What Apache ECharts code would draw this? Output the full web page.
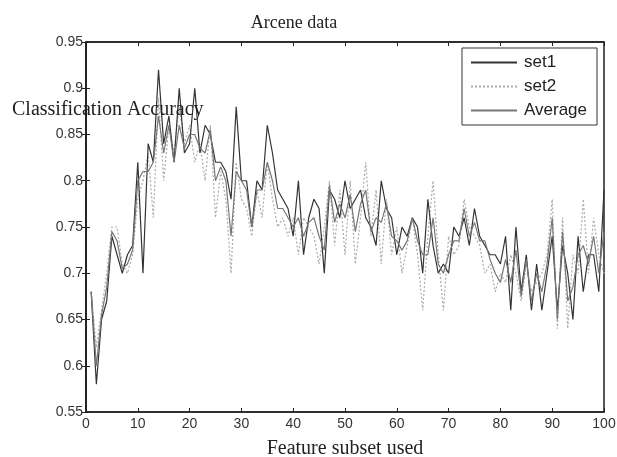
<!DOCTYPE html>
<html>
<head>
<meta charset="utf-8">
<script src="https://cdn.jsdelivr.net/npm/echarts@6/dist/echarts.min.js"></script>
<style>html,body{margin:0;padding:0;background:#fff}#c{width:617px;height:457px}</style>
</head>
<body>
<div id="c"></div>
<script>
var featureSubset = [];
for (var k = 1; k <= 100; k++) featureSubset.push(k);

var set1 = [0.68,0.58,0.65,0.67,0.74,0.72,0.70,0.72,0.73,0.82,
0.70,0.84,0.82,0.92,0.84,0.87,0.82,0.90,0.83,0.84,
0.90,0.83,0.86,0.85,0.82,0.82,0.81,0.78,0.88,0.80,
0.80,0.75,0.80,0.79,0.86,0.83,0.79,0.78,0.77,0.74,
0.80,0.72,0.76,0.78,0.77,0.70,0.79,0.78,0.76,0.80,
0.77,0.78,0.79,0.76,0.75,0.73,0.80,0.77,0.76,0.72,
0.75,0.74,0.76,0.75,0.70,0.78,0.73,0.70,0.71,0.70,
0.75,0.74,0.76,0.73,0.77,0.74,0.73,0.72,0.72,0.71,
0.74,0.66,0.75,0.68,0.72,0.66,0.71,0.66,0.70,0.74,
0.66,0.73,0.70,0.65,0.74,0.68,0.72,0.72,0.68,0.79];

var set2 = [0.68,0.62,0.66,0.70,0.75,0.75,0.71,0.70,0.72,0.78,
0.80,0.83,0.76,0.89,0.80,0.86,0.83,0.88,0.84,0.86,
0.82,0.84,0.80,0.86,0.76,0.81,0.78,0.70,0.82,0.78,
0.77,0.74,0.79,0.76,0.82,0.78,0.75,0.76,0.74,0.76,
0.72,0.76,0.75,0.74,0.71,0.75,0.80,0.73,0.79,0.72,
0.80,0.71,0.76,0.82,0.74,0.79,0.71,0.78,0.72,0.75,
0.70,0.73,0.76,0.72,0.66,0.74,0.80,0.72,0.66,0.74,
0.72,0.73,0.78,0.75,0.74,0.73,0.70,0.71,0.68,0.70,
0.69,0.72,0.70,0.67,0.71,0.68,0.69,0.70,0.72,0.78,
0.64,0.76,0.64,0.72,0.70,0.78,0.70,0.76,0.72,0.70];

var average = [0.68,0.60,0.655,0.685,0.745,0.735,0.705,0.71,0.725,0.80,
0.81,0.81,0.82,0.87,0.83,0.86,0.82,0.86,0.835,0.85,
0.85,0.835,0.83,0.855,0.80,0.815,0.80,0.74,0.81,0.80,
0.79,0.75,0.79,0.79,0.82,0.80,0.77,0.77,0.76,0.75,
0.76,0.74,0.755,0.76,0.74,0.725,0.795,0.755,0.775,0.76,
0.785,0.745,0.775,0.79,0.745,0.76,0.755,0.775,0.74,0.735,
0.725,0.735,0.76,0.735,0.72,0.72,0.76,0.71,0.70,0.72,
0.735,0.735,0.77,0.74,0.755,0.735,0.735,0.715,0.70,0.69,
0.715,0.69,0.725,0.675,0.715,0.67,0.70,0.68,0.71,0.76,
0.65,0.745,0.67,0.685,0.72,0.73,0.71,0.74,0.70,0.745];

var xTicks = [0,10,20,30,40,50,60,70,80,90,100];
var yTicks = [0.55,0.6,0.65,0.7,0.75,0.8,0.85,0.9,0.95];

function pairs(arr){ return arr.map(function(v,i){ return [featureSubset[i], v]; }); }

var chart = echarts.init(document.getElementById('c'));
function axisCommon(){
  return {
    axisLine:{show:true, lineStyle:{color:'#222', width:1.5}},
    axisTick:{show:true, inside:true, length:4, lineStyle:{color:'#222'}},
    splitLine:{show:false}
  };
}
chart.setOption({
  backgroundColor:'#fff',
  animation:false,
  title:{text:'Arcene data', left:289, textAlign:'center', top:9,
    textStyle:{fontFamily:'Liberation Serif', fontSize:18, fontWeight:'normal', color:'#222'}},
  legend:{
    orient:'vertical', right:20, top:48,
    backgroundColor:'#fff', borderColor:'#333', borderWidth:1,
    padding:[6,10,6,8], itemGap:7, itemWidth:46, itemHeight:16,
    itemStyle:{opacity:0},
    textStyle:{fontFamily:'Liberation Sans', fontSize:17, color:'#222', padding:[0,0,0,2]},
    data:['set1','set2','Average']
  },
  grid:{left:86, right:13, top:42, bottom:45, show:true, borderColor:'#222', borderWidth:1.5,
    containLabel:false, outerBoundsMode:'none'},
  xAxis:[
    Object.assign({type:'value', min:0, max:100, interval:10,
      name:'Feature subset used', nameLocation:'middle', nameGap:27,
      nameTextStyle:{fontFamily:'Liberation Serif', fontSize:20, color:'#222'},
      axisLabel:{fontFamily:'Liberation Sans', fontSize:14, color:'#333', margin:5,
        formatter:function(v){ return xTicks.indexOf(v) >= 0 ? String(v) : ''; }}}, axisCommon()),
    Object.assign({type:'value', position:'top', min:0, max:100, interval:10,
      axisLabel:{show:false}}, axisCommon())
  ],
  yAxis:[
    Object.assign({type:'value', min:0.55, max:0.95, interval:0.05,
      axisLabel:{fontFamily:'Liberation Sans', fontSize:14, color:'#333', margin:3,
        formatter:function(v){
          for (var j=0;j<yTicks.length;j++){ if (Math.abs(yTicks[j]-v)<1e-6) return String(yTicks[j]); }
          return '';
        }}}, axisCommon()),
    Object.assign({type:'value', position:'right', min:0.55, max:0.95, interval:0.05,
      axisLabel:{show:false}}, axisCommon())
  ],
  graphic:[{
    type:'text', left:12, top:100, z:100,
    style:{text:'Classification Accuracy', font:'20px "Liberation Serif"', fill:'#222'}
  }],
  series:[
    {name:'set1', type:'line', data:pairs(set1), symbol:'none',
      lineStyle:{color:'#333', width:1.2}, itemStyle:{color:'#333'}, z:3},
    {name:'set2', type:'line', data:pairs(set2), symbol:'none',
      lineStyle:{color:'#aaa', width:1.2, type:[2,2]}, itemStyle:{color:'#aaa'}, z:2},
    {name:'Average', type:'line', data:pairs(average), symbol:'none',
      lineStyle:{color:'#777', width:1.2}, itemStyle:{color:'#777'}, z:4}
  ]
});
</script>
</body>
</html>
